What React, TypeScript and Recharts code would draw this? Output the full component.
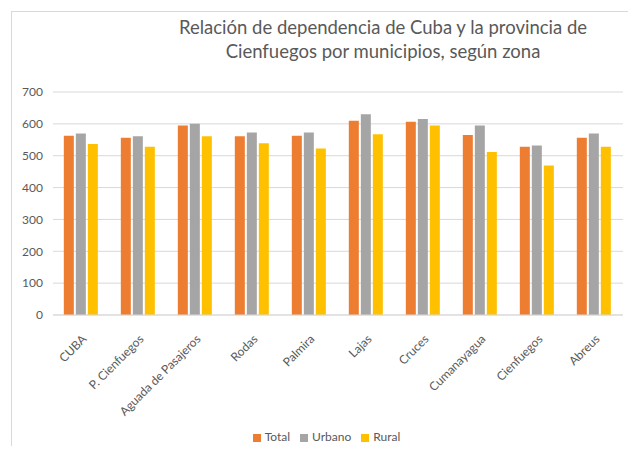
import { Bar, BarChart, CartesianGrid, Legend, XAxis, YAxis } from "recharts";

const municipios = [
  "CUBA",
  "P. Cienfuegos",
  "Aguada de Pasajeros",
  "Rodas",
  "Palmira",
  "Lajas",
  "Cruces",
  "Cumanayagua",
  "Cienfuegos",
  "Abreus",
];
const total = [563, 556, 595, 561, 563, 610, 607, 565, 528, 556];
const urbano = [570, 561, 600, 573, 573, 630, 615, 595, 532, 570];
const rural = [537, 528, 561, 539, 523, 567, 595, 512, 469, 528];
const yTicks = [0, 100, 200, 300, 400, 500, 600, 700];
const seriesOrder = ["Total", "Urbano", "Rural"];

const data = municipios.map((name, i) => ({
  name,
  Total: total[i],
  Urbano: urbano[i],
  Rural: rural[i],
}));

const FONT = "Lato, 'Liberation Sans', sans-serif";
const TEXT = "#595959";

// rotated category labels, ending at the category centre like Excel does
function AngledTick({ x, y, payload }: any) {
  return (
    <g transform={`translate(${x + 3},${y + 14})`}>
      <text
        x={0}
        y={0}
        dy={4}
        textAnchor="end"
        transform="rotate(-45)"
        fill={TEXT}
        fontSize={12}
        fontFamily={FONT}
      >
        {payload.value}
      </text>
    </g>
  );
}

export default function App() {
  return (
    <div
      style={{
        position: "relative",
        width: 636,
        height: 454,
        margin: -8,
        overflow: "hidden",
        background: "#fff",
        fontFamily: FONT,
      }}
    >
      {/* chart frame, only its top-left corner is in view */}
      <div
        style={{
          position: "absolute",
          left: 11,
          top: 11,
          width: 700,
          height: 500,
          borderLeft: "1px solid #d9d9d9",
          borderTop: "1px solid #d9d9d9",
        }}
      />
      <div
        style={{
          position: "absolute",
          left: 133,
          width: 500,
          top: 15,
          textAlign: "center",
          color: TEXT,
          fontSize: 18.5,
          lineHeight: "24px",
        }}
      >
        Relación de dependencia de Cuba y la provincia de
        <br />
        Cienfuegos por municipios, según zona
      </div>
      <BarChart
        width={636}
        height={454}
        data={data}
        margin={{ top: 92, right: 13, left: 0, bottom: 10 }}
        barCategoryGap="19%"
        barGap={2}
        style={{ position: "absolute", left: 0, top: 0 }}
      >
        <CartesianGrid vertical={false} stroke="#d9d9d9" />
        <XAxis
          dataKey="name"
          interval={0}
          tick={<AngledTick />}
          tickLine={false}
          axisLine={{ stroke: "#d9d9d9" }}
          height={114}
        />
        <YAxis
          domain={[0, 700]}
          ticks={yTicks}
          width={53}
          tickLine={false}
          axisLine={false}
          tickMargin={4}
          tick={{ fill: TEXT, fontSize: 12, fontFamily: FONT }}
        />
        <Legend
          verticalAlign="bottom"
          iconType="square"
          iconSize={8}
          itemSorter={(item: any) => seriesOrder.indexOf(item.value)}
          wrapperStyle={{ left: 20, fontSize: 12, fontFamily: FONT }}
          formatter={(v) => <span style={{ color: TEXT }}>{v}</span>}
        />
        <Bar dataKey="Total" fill="#ED7D31" isAnimationActive={false} />
        <Bar dataKey="Urbano" fill="#A5A5A5" isAnimationActive={false} />
        <Bar dataKey="Rural" fill="#FFC000" isAnimationActive={false} />
      </BarChart>
    </div>
  );
}
